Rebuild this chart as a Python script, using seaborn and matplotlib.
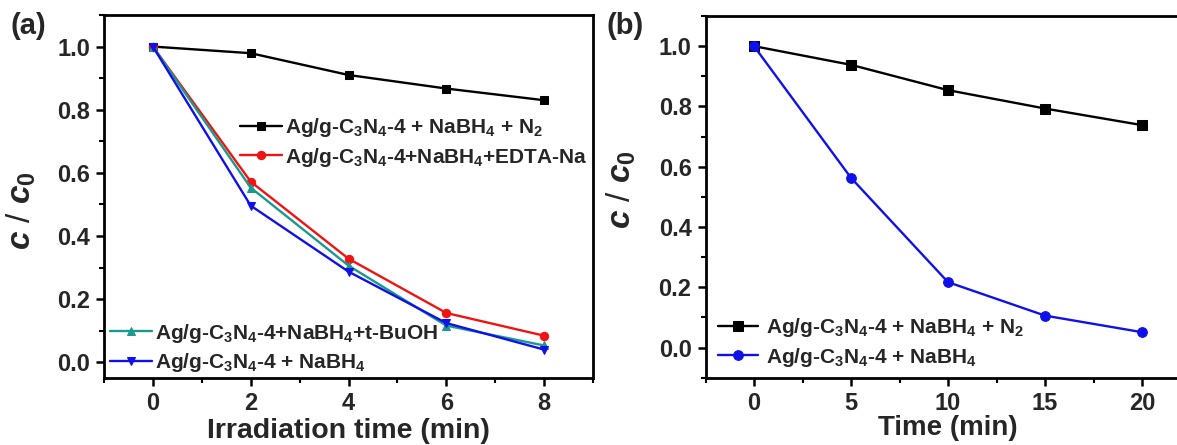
import numpy as np
import pandas as pd
import matplotlib
matplotlib.use("Agg")
import matplotlib.pyplot as plt
from matplotlib.ticker import MultipleLocator
import seaborn as sns

# ---------------- data ----------------
time_a = [0, 2, 4, 6, 8]
n2_a = [1.0, 0.979, 0.910, 0.867, 0.830]
edta_a = [1.0, 0.572, 0.328, 0.156, 0.084]
tbuoh_a = [1.0, 0.553, 0.306, 0.116, 0.053]
nabh4_a = [1.0, 0.496, 0.287, 0.124, 0.040]

time_b = [0, 5, 10, 15, 20]
n2_b = [1.0, 0.938, 0.854, 0.793, 0.738]
nabh4_b = [1.0, 0.563, 0.217, 0.106, 0.051]

lab_n2 = r"Ag/g-C$_3$N$_4$-4 + NaBH$_4$ + N$_2$"
lab_edta = r"Ag/g-C$_3$N$_4$-4+NaBH$_4$+EDTA-Na"
lab_tbu = r"Ag/g-C$_3$N$_4$-4+NaBH$_4$+t-BuOH"
lab_nabh4_a = r"Ag/g-C$_3$N$_4$-4 + NaBH$_4$"
lab_nabh4_b = r"Ag/g-C$_3$N$_4$-4 + NaBH$_4$"

# ---------------- style ----------------
sns.set_theme(style="ticks")
plt.rcParams["font.family"] = ["Liberation Sans", "DejaVu Sans"]
plt.rcParams["font.weight"] = "bold"
plt.rcParams["mathtext.fontset"] = "custom"
plt.rcParams["mathtext.rm"] = "Liberation Sans:bold"
plt.rcParams["mathtext.bf"] = "Liberation Sans:bold"
plt.rcParams["mathtext.it"] = "Liberation Sans:italic:bold"
plt.rcParams["mathtext.default"] = "rm"

BLACK = "#000000"
RED = "#f21212"
TEAL = "#1a9a8e"
BLUE = "#1010ea"

fig = plt.figure(figsize=(11.77, 4.45), dpi=100)
W, H = 1177, 445

def axes_px(x0, x1, y0, y1):
    return fig.add_axes([x0 / W, 1 - y1 / H, (x1 - x0) / W, (y1 - y0) / H])

ax1 = axes_px(104, 593, 15, 378)
ax2 = axes_px(705.5, 1190.5, 16, 377.7)

lw = 1.7

def draw(ax, x, y, color, marker, ms, label):
    df = pd.DataFrame({"x": x, "y": y})
    sns.lineplot(data=df, x="x", y="y", ax=ax, color=color, marker=marker,
                 markersize=ms, markeredgecolor=color, linewidth=lw,
                 label=label, legend=True)

draw(ax1, time_a, n2_a, BLACK, "s", 5.5, lab_n2)
draw(ax1, time_a, edta_a, RED, "o", 6, lab_edta)
draw(ax1, time_a, tbuoh_a, TEAL, "^", 6, lab_tbu)
draw(ax1, time_a, nabh4_a, BLUE, "v", 6, lab_nabh4_a)

draw(ax2, time_b, n2_b, BLACK, "s", 6.5, lab_n2)
draw(ax2, time_b, nabh4_b, BLUE, "o", 7, lab_nabh4_b)

ylab = r"$\mathit{c}$ / $\mathit{c}_\mathit{0}$"

for ax in (ax1, ax2):
    for s in ax.spines.values():
        s.set_linewidth(2)
        s.set_color("black")
    ax.tick_params(axis="both", which="major", direction="out", length=6, width=1.8,
                   labelsize=17, color="black", pad=4)
    ax.tick_params(axis="both", which="minor", direction="out", length=3.5, width=1.5,
                   color="black")
    ax.tick_params(top=False, right=False, which="both")
    ax.yaxis.set_major_locator(MultipleLocator(0.2))
    ax.yaxis.set_minor_locator(MultipleLocator(0.1))
    ax.set_ylabel(ylab, fontsize=24)

ax1.set_xlim(-1, 9)
ax1.set_ylim(-0.05, 1.1)
ax1.xaxis.set_major_locator(MultipleLocator(2))
ax1.xaxis.set_minor_locator(MultipleLocator(1))
ax1.set_xlabel("Irradiation time (min)", fontsize=20.5, fontweight="bold", labelpad=2)
ax1.yaxis.set_label_coords(-0.135, 0.46)

ax2.set_xlim(-2.5, 22.5)
ax2.set_ylim(-0.1, 1.1)
ax2.xaxis.set_major_locator(MultipleLocator(5))
ax2.xaxis.set_minor_locator(MultipleLocator(2.5))
ax2.set_xlabel("Time (min)", fontsize=20, fontweight="bold", labelpad=0)
ax2.yaxis.set_label_coords(-0.14, 0.52)

for ax in (ax1, ax2):
    for lbl in ax.get_xticklabels() + ax.get_yticklabels():
        lbl.set_fontweight("bold")
        lbl.set_fontsize(17)

# legends
h1, l1 = ax1.get_legend_handles_labels()
ax1.get_legend().remove()
leg_kw = dict(frameon=False, fontsize=15, borderpad=0, borderaxespad=0,
              handlelength=2.0, handletextpad=0.15, labelspacing=0.3)
legA = ax1.legend(h1[:2], l1[:2], loc="center left", bbox_to_anchor=(0.278, 0.649), **leg_kw)
ax1.add_artist(legA)
ax1.legend(h1[2:], l1[2:], loc="center left", bbox_to_anchor=(0.012, 0.083), **leg_kw)

h2, l2 = ax2.get_legend_handles_labels()
ax2.get_legend().remove()
ax2.legend(h2, l2, loc="center left", bbox_to_anchor=(0.026, 0.097),
           frameon=False, fontsize=15, borderpad=0, borderaxespad=0,
           handlelength=1.9, handletextpad=0.4, labelspacing=0.3)

fig.text(10 / W, 1 - 12 / H, "(a)", fontsize=21, fontweight="bold", va="top", ha="left")
fig.text(607 / W, 1 - 12 / H, "(b)", fontsize=21, fontweight="bold", va="top", ha="left")

fig.savefig("out.png", dpi=100)
